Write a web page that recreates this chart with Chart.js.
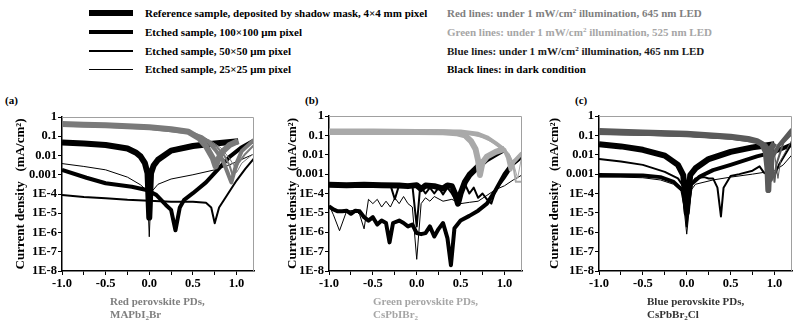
<!DOCTYPE html>
<html>
<head>
<meta charset="utf-8">
<script src="https://cdn.jsdelivr.net/npm/chart.js@4.4.1/dist/chart.umd.min.js"></script>
<style>
  body { margin: 0; background: #fff; }
  #page { position: relative; width: 800px; height: 325px; overflow: hidden; font-family: "Liberation Serif", serif; font-weight: bold; }
  .abs { position: absolute; white-space: nowrap; }
  .leg { font-size: 11px; line-height: 14px; }
  .bar { position: absolute; left: 89px; width: 44px; background: #000; }
  .lab { font-size: 11px; line-height: 14px; }
  .sub { font-size: 11px; line-height: 12.5px; }
  sub { font-size: 7px; vertical-align: baseline; position: relative; top: 2px; }
  sup { font-size: 7px; vertical-align: baseline; position: relative; top: -4px; }
  canvas { position: absolute; }
</style>
</head>
<body>
<div id="page">
  <div class="bar" style="top:10px;height:6px"></div>
  <div class="bar" style="top:30px;height:4px"></div>
  <div class="bar" style="top:50px;height:2px"></div>
  <div class="bar" style="top:69px;height:1px"></div>
  <div class="abs leg" style="left:145px;top:6px">Reference sample, deposited by shadow mask, 4×4 mm pixel</div>
  <div class="abs leg" style="left:145px;top:25px">Etched sample, 100×100 μm pixel</div>
  <div class="abs leg" style="left:145px;top:44px">Etched sample, 50×50 μm pixel</div>
  <div class="abs leg" style="left:145px;top:62px">Etched sample, 25×25 μm pixel</div>
  <div class="abs leg" style="left:447px;top:6px;color:#7f7f7f">Red lines: under 1 mW/cm<sup>2</sup> illumination, 645 nm LED</div>
  <div class="abs leg" style="left:447px;top:25px;color:#a6a6a6">Green lines: under 1 mW/cm<sup>2</sup> illumination, 525 nm LED</div>
  <div class="abs leg" style="left:447px;top:44px;color:#1a1a1a">Blue lines: under 1 mW/cm<sup>2</sup> illumination, 465 nm LED</div>
  <div class="abs leg" style="left:447px;top:62px;color:#000">Black lines: in dark condition</div>

  <div class="abs lab" style="left:5px;top:93px">(a)</div>
  <div class="abs lab" style="left:305px;top:93px">(b)</div>
  <div class="abs lab" style="left:575px;top:93px">(c)</div>

  <canvas id="chartA" width="262" height="200" style="left:0px;top:100px"></canvas>
  <canvas id="chartB" width="262" height="200" style="left:265px;top:100px"></canvas>
  <canvas id="chartC" width="270" height="200" style="left:530px;top:100px"></canvas>

  <div class="abs sub" style="left:110px;top:295px;color:#7f7f7f">Red perovskite PDs,<br>MAPbI<sub>2</sub>Br</div>
  <div class="abs sub" style="left:373px;top:295px;color:#a6a6a6">Green perovskite PDs,<br>CsPbIBr<sub>2</sub></div>
  <div class="abs sub" style="left:647px;top:295px;color:#333">Blue perovskite PDs,<br>CsPbBr<sub>2</sub>Cl</div>
</div>
<script>
// x ticks (minor every 0.25, labels every 0.5) and log decades
const xTicks = [-1, -0.75, -0.5, -0.25, 0, 0.25, 0.5, 0.75, 1.0];
const yTicks = [1e-8, 1e-7, 1e-6, 1e-5, 1e-4, 1e-3, 1e-2, 1e-1, 1];
const yLabels = ['1E-8', '1E-7', '1E-6', '1E-5', '1E-4', '0.001', '0.01', '0.1', '1'];
const widths = [6, 4, 2, 1]; // 4x4 mm, 100x100, 50x50, 25x25

// (a) red, MAPbI2Br  -- [voltage, current density]
const aLightRef = [[-1,0.43],[-0.75,0.4],[-0.5,0.37],[-0.25,0.33],[0,0.29],[0.25,0.23],[0.45,0.17],[0.57,0.08],[0.65,0.03],[0.73,0.007],[0.76,0.0027],[0.8,0.008],[0.84,0.016],[0.92,0.035],[1.02,0.056]];
const aLight100 = [[-1,0.39],[-0.5,0.35],[0,0.28],[0.45,0.16],[0.6,0.09],[0.68,0.05],[0.76,0.019],[0.84,0.006],[0.9,0.0012],[0.94,0.0004],[1.0,0.004],[1.06,0.017],[1.2,0.065]];
const aLight50 = [[-1,0.36],[-0.5,0.33],[0,0.27],[0.45,0.16],[0.65,0.07],[0.77,0.03],[0.86,0.01],[0.92,0.003],[0.96,0.0008],[1.02,0.004],[1.1,0.012],[1.2,0.035]];
const aLight25 = [[-1,0.34],[-0.5,0.31],[0,0.26],[0.5,0.14],[0.7,0.06],[0.82,0.025],[0.92,0.007],[0.97,0.003],[1.0,0.0013],[1.06,0.004],[1.2,0.013]];
const aDarkRef = [[-1,0.048],[-0.75,0.042],[-0.5,0.035],[-0.25,0.023],[-0.15,0.014],[-0.1,0.009],[-0.05,0.004],[-0.02,0.0012],[0,0.000006],[0.02,0.0012],[0.05,0.003],[0.1,0.006],[0.25,0.018],[0.5,0.031],[0.75,0.042],[1.02,0.055]];
const aDark100 = [[-1,0.0018],[-0.72,0.0007],[-0.5,0.00036],[-0.2,0.00024],[-0.03,0.00016],[0.08,0.00009],[0.19,0.000027],[0.25,0.000015],[0.3,0.0000013],[0.35,0.00002],[0.4,0.00005],[0.5,0.00011],[0.65,0.0004],[0.84,0.0035],[0.92,0.0085],[1.05,0.025],[1.2,0.06]];
const aDark50 = [[-1,0.00009],[-0.75,0.00007],[-0.5,0.00006],[-0.25,0.00005],[0,0.000045],[0.25,0.00004],[0.5,0.00004],[0.65,0.000035],[0.71,0.00002],[0.75,0.000003],[0.8,0.00002],[0.9,0.0001],[1.0,0.0005],[1.1,0.002],[1.2,0.007]];
const aDark25 = [[-1,0.0038],[-0.75,0.0027],[-0.5,0.0018],[-0.25,0.00075],[-0.1,0.0003],[-0.02,0.00014],[0,0.0000006],[0.02,0.00012],[0.1,0.00032],[0.25,0.0006],[0.5,0.001],[0.75,0.0018],[0.9,0.003],[1.05,0.006],[1.2,0.012]];

// (b) green, CsPbIBr2
const bLightRef = [[-1,0.15],[-0.5,0.15],[0,0.15],[0.3,0.145],[0.45,0.13],[0.55,0.1],[0.62,0.05],[0.67,0.02],[0.7,0.005],[0.72,0.0009],[0.75,0.004],[0.8,0.008],[0.9,0.014],[1.0,0.02]];
const bLight100 = [[-1,0.18],[-0.5,0.18],[0,0.17],[0.5,0.16],[0.7,0.12],[0.8,0.08],[0.9,0.04],[1.0,0.018],[1.04,0.007],[1.07,0.0017],[1.1,0.004],[1.2,0.012]];
const bLight50 = [[-1,0.14],[-0.5,0.14],[0,0.14],[0.5,0.13],[0.7,0.1],[0.85,0.05],[0.95,0.025],[1.05,0.01],[1.1,0.003],[1.13,0.0004],[1.2,0.0004]];
const bLight25 = [[-1,0.12],[-0.5,0.12],[0,0.12],[0.6,0.11],[0.8,0.07],[0.95,0.03],[1.05,0.012],[1.1,0.004],[1.15,0.0006],[1.2,0.01]];
const bDarkRef = [[-1,0.00028],[-0.8,0.00027],[-0.6,0.00028],[-0.4,0.00027],[-0.2,0.00026],[-0.1,0.00024],[0,0.00027],[0.05,0.00017],[0.1,0.00026],[0.2,0.00024],[0.3,0.00018],[0.35,0.00026],[0.4,0.00024],[0.44,0.00009],[0.47,0.00003],[0.5,0.0001],[0.55,0.0004],[0.6,0.0009],[0.7,0.0025],[0.8,0.006],[0.9,0.011],[1.0,0.02]];
const bDark100 = [[-1,0.000022],[-0.95,0.000015],[-0.9,0.000012],[-0.85,0.000012],[-0.8,0.000013],[-0.75,0.000009],[-0.7,0.000013],[-0.65,0.000012],[-0.6,0.000006],[-0.55,0.000004],[-0.5,0.000006],[-0.45,0.0000025],[-0.4,0.000004],[-0.35,0.000003],[-0.31,0.0000003],[-0.27,0.000003],[-0.2,0.000004],[-0.15,0.000003],[-0.1,0.000002],[-0.05,0.0000025],[0,0.0000009],[0.05,0.0000008],[0.1,0.0000009],[0.15,0.000002],[0.2,0.0000006],[0.25,0.0000015],[0.3,0.000003],[0.35,0.0000005],[0.39,0.00000002],[0.43,0.0000016],[0.5,0.000004],[0.6,0.000007],[0.7,0.000013],[0.8,0.00003],[0.9,0.00015],[1.0,0.001],[1.1,0.004],[1.2,0.008]];
const bDark50 = [[-1,0.00028],[-0.5,0.00028],[-0.3,0.00028],[-0.25,0.00005],[-0.2,0.00028],[-0.05,0.00028],[0,0.000002],[0.04,0.00025],[0.1,0.0001],[0.15,0.0002],[0.2,0.0001],[0.25,0.0002],[0.3,0.00009],[0.35,0.0002],[0.4,0.0001],[0.45,0.00004],[0.5,0.00015],[0.55,0.0003],[0.6,0.0001],[0.65,0.0002],[0.7,0.00006],[0.75,0.0001],[0.8,0.00005],[0.85,0.00003],[0.9,0.00015],[1.0,0.0006],[1.1,0.003],[1.2,0.007]];
const bDark25 = [[-1,0.000025],[-0.95,0.000008],[-0.88,0.0000012],[-0.8,0.000012],[-0.7,0.000014],[-0.65,0.000008],[-0.6,0.0000015],[-0.55,0.00005],[-0.5,0.00003],[-0.45,0.00005],[-0.4,0.00002],[-0.35,0.00004],[-0.3,0.00002],[-0.25,0.00006],[-0.2,0.00003],[-0.15,0.00007],[-0.1,0.00003],[-0.05,0.00002],[0,0.00000004],[0.05,0.00003],[0.1,0.00006],[0.15,0.00004],[0.2,0.00007],[0.3,0.00004],[0.4,0.00005],[0.5,0.00003],[0.6,0.000035],[0.7,0.00004],[0.8,0.00008],[0.9,0.00016],[1.0,0.00025],[1.1,0.0005],[1.2,0.0009]];

// (c) blue, CsPbBr2Cl
const cLightRef = [[-1,0.17],[-0.5,0.14],[0,0.12],[0.5,0.085],[0.7,0.065],[0.8,0.05],[0.86,0.035],[0.9,0.015],[0.92,0.002],[0.93,0.00015],[0.94,0.002],[0.96,0.02],[1.0,0.04]];
const cLight100 = [[-1,0.14],[-0.5,0.12],[0,0.1],[0.5,0.075],[0.8,0.05],[0.9,0.03],[0.94,0.008],[0.96,0.0005],[0.98,0.008],[1.05,0.03],[1.2,0.2]];
const cLight50 = [[-1,0.12],[0,0.095],[0.5,0.07],[0.85,0.045],[0.95,0.02],[0.98,0.003],[1.0,0.0004],[1.02,0.003],[1.1,0.04],[1.2,0.12]];
const cLight25 = [[-1,0.11],[0,0.09],[0.5,0.065],[0.9,0.04],[1.0,0.012],[1.04,0.0006],[1.07,0.005],[1.2,0.06]];
const cDarkRef = [[-1,0.035],[-0.75,0.027],[-0.5,0.018],[-0.25,0.009],[-0.1,0.003],[-0.04,0.0009],[0,0.00001],[0.04,0.0009],[0.1,0.002],[0.25,0.006],[0.5,0.014],[0.75,0.024],[0.9,0.03],[1.0,0.035]];
const cDark100 = [[-1,0.0009],[-0.75,0.00088],[-0.5,0.00085],[-0.3,0.0007],[-0.15,0.0004],[-0.05,0.00015],[0,0.00001],[0.05,0.0003],[0.15,0.00076],[0.3,0.0016],[0.5,0.003],[0.8,0.0083],[1.0,0.014],[1.2,0.034]];
const cDark50 = [[-1,0.006],[-0.75,0.0045],[-0.5,0.003],[-0.25,0.0013],[-0.1,0.0006],[-0.03,0.0002],[0,0.000002],[0.03,0.0002],[0.1,0.0006],[0.2,0.0007],[0.25,0.0006],[0.3,0.0006],[0.35,0.0002],[0.39,0.0000065],[0.42,0.0002],[0.5,0.0008],[0.6,0.001],[0.75,0.0015],[0.83,0.0025],[0.88,0.0012],[0.95,0.0008],[1.0,0.0008],[1.05,0.003],[1.12,0.01],[1.2,0.04]];
const cDark25 = [[-1,0.0007],[-0.75,0.0007],[-0.5,0.00065],[-0.3,0.0005],[-0.15,0.0003],[-0.05,0.00012],[0,0.0000008],[0.05,0.00015],[0.1,0.0003],[0.3,0.0005],[0.5,0.0007],[0.75,0.001],[1.0,0.0015],[1.1,0.003],[1.2,0.01]];

const tickFont = { family: 'Liberation Serif', weight: 'bold', size: 12.5 };

const framePlugin = {
    id: 'frame',
    afterDraw(chart){
        const a = chart.chartArea;
        const ctx = chart.ctx;
        ctx.save();
        ctx.strokeStyle = '#a0a0a0';
        ctx.lineWidth = 1;
        ctx.beginPath();
        ctx.moveTo(a.left, a.top + 0.5);
        ctx.lineTo(a.right - 0.5, a.top + 0.5);
        ctx.lineTo(a.right - 0.5, a.bottom);
        ctx.stroke();
        ctx.restore();
    }
};

function makeSets(light, dark, color){
    const sets = [];
    light.forEach((d, i) => {
        sets.push({ data: d, borderColor: color, borderWidth: widths[i] });
    });
    dark.forEach((d, i) => {
        sets.push({ data: d, borderColor: '#000', borderWidth: widths[i] });
    });
    return sets;
}

function createChart(id, sets, yWidth, titlePad, padTop, padRight){
    const ctx = document.querySelector('#' + id).getContext('2d');
    return new Chart(ctx, {
        type: 'line',
        data: { datasets: sets },
        options: {
            responsive: false,
            animation: false,
            devicePixelRatio: 1,
            parsing: true,
            elements: {
                point: { radius: 0 },
                line: { tension: 0, borderJoinStyle: 'round', fill: false }
            },
            layout: { padding: { top: padTop, right: padRight, left: 0, bottom: 0 } },
            plugins: { legend: { display: false }, tooltip: { enabled: false } },
            scales: {
                x: {
                    type: 'linear',
                    min: -1,
                    max: 1.2,
                    afterBuildTicks: s => { s.ticks = xTicks.map(v => ({ value: v })); },
                    afterFit: s => { s.height = 29; },
                    grid: { drawOnChartArea: false, tickLength: 4, color: '#000' },
                    border: { color: '#000', width: 1.5 },
                    ticks: {
                        autoSkip: false,
                        maxRotation: 0,
                        padding: 1,
                        color: '#000',
                        font: tickFont,
                        callback: v => (Math.abs(v * 2 - Math.round(v * 2)) < 1e-6 ? v.toFixed(1) : '')
                    }
                },
                y: {
                    type: 'logarithmic',
                    min: 1e-8,
                    max: 1,
                    afterBuildTicks: s => { s.ticks = yTicks.map(v => ({ value: v })); },
                    afterFit: s => { s.width = yWidth; },
                    grid: { drawOnChartArea: false, tickLength: 4, color: '#000' },
                    border: { color: '#000', width: 1.5 },
                    ticks: {
                        padding: 1,
                        color: '#000',
                        font: tickFont,
                        callback: v => {
                            const i = yTicks.findIndex(t => Math.abs(Math.log10(t) - Math.log10(v)) < 1e-6);
                            return i >= 0 ? yLabels[i] : '';
                        }
                    },
                    title: {
                        display: true,
                        text: 'Current density   (mA/cm²)',
                        color: '#000',
                        font: { family: 'Liberation Serif', weight: 'bold', size: 13 },
                        padding: { top: titlePad, bottom: 0 }
                    }
                }
            }
        },
        plugins: [framePlugin]
    });
}

createChart('chartA', makeSets([aLightRef, aLight100, aLight50, aLight25], [aDarkRef, aDark100, aDark50, aDark25], '#7a7a7a'), 62, 13, 17, 8);
createChart('chartB', makeSets([bLightRef, bLight100, bLight50, bLight25], [bDarkRef, bDark100, bDark50, bDark25], '#a9a9a9'), 64, 20, 16, 5);
createChart('chartC', makeSets([cLightRef, cLight100, cLight50, cLight25], [cDarkRef, cDark100, cDark50, cDark25], '#5a5a5a'), 69, 17, 16, 8);
</script>
</body>
</html>
